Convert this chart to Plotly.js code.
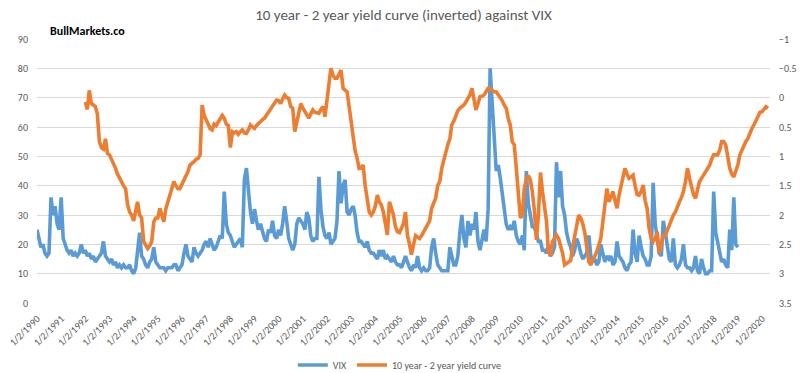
<!DOCTYPE html>
<html><head><meta charset="utf-8">
<script src="https://cdn.plot.ly/plotly-3.0.1.min.js"></script>
<style>html,body{margin:0;padding:0;background:#fff}#chart{width:800px;height:373px}</style>
</head><body><div id="chart"></div>
<script>
// x-axis tick labels (one per year, Jan 2nd)
const tickYears = [1990,1991,1992,1993,1994,1995,1996,1997,1998,1999,2000,2001,2002,2003,2004,2005,
  2006,2007,2008,2009,2010,2011,2012,2013,2014,2015,2016,2017,2018,2019,2020];

// VIX, monthly readings starting Jan 1990 (left axis)
const vixStart = '1990-01';
const vixValues = [
  25,21,19,20,17,16,17,36,30,33,27,25,   // 1990
  36,22,20,18,17,18,16,17,16,17,20,17,   // 1991
  18,16,17,15,16,14,15,16,17,21,16,15,   // 1992
  14,15,13,14,12,13,12,13,12,12,13,11,   // 1993
  10,12,19,24,16,15,13,12,14,15,19,14,   // 1994
  13,12,12,12,11,12,12,12,13,13,11,12,   // 1995
  13,17,20,16,15,14,19,17,16,17,18,20,   // 1996
  21,19,22,20,18,19,21,23,22,38,27,24,   // 1997
  23,21,19,20,21,22,19,42,46,38,31,27,   // 1998
  32,28,25,27,24,22,21,25,24,28,23,22,   // 1999
  25,23,27,33,28,22,20,18,20,27,29,28,   // 2000
  27,25,31,29,23,21,22,22,43,32,26,23,   // 2001
  22,24,20,21,22,28,45,34,40,42,31,30,   // 2002
  32,33,30,24,21,21,20,19,21,18,17,17,   // 2003
  16,15,18,16,18,15,16,15,14,16,14,13,   // 2004
  13,12,14,16,14,12,11,13,12,16,12,11,   // 2005
  12,11,11,12,19,22,17,13,12,11,11,11,   // 2006
  11,19,16,13,13,16,24,30,22,19,28,23,   // 2007
  27,25,31,21,18,22,25,21,32,80,70,57,   // 2008
  45,47,43,37,32,27,25,26,25,28,23,21,   // 2009
  20,23,18,45,34,30,26,26,23,21,21,18,   // 2010
  18,17,20,16,17,19,48,36,45,33,30,24,   // 2011
  21,19,16,18,22,20,17,15,16,17,23,16,   // 2012
  14,15,13,14,20,17,14,16,15,16,13,14,   // 2013
  21,16,15,14,12,11,13,14,25,17,14,23,   // 2014
  19,16,15,13,13,16,41,27,22,17,16,28,   // 2015
  24,20,15,14,22,13,12,13,15,20,13,12,   // 2016
  12,11,12,16,11,10,15,12,10,10,11,11,   // 2017
  38,24,21,17,14,15,13,12,25,18,36,20,   // 2018
  19                                     // 2019
];

// 10 year - 2 year yield curve, monthly readings starting Jan 1992 (right axis, inverted)
const curveStart = '1992-01';
const curveValues = [
  0.075,0.2,-0.125,0.1,0.125,0.15,0.275,0.75,0.85,0.875,0.7,0.95,          // 1992
  0.975,1.05,1.1,1.2,1.3,1.375,1.425,1.5,1.55,1.825,1.95,2.0,              // 1993
  2.1,1.95,1.775,2.0,2.05,2.45,2.5,2.57,2.525,2.45,2.115,2.05,             // 1994
  2.05,1.885,2.0,2.115,1.9,1.775,1.66,1.55,1.43,1.5,1.55,1.55,             // 1995
  1.475,1.43,1.35,1.26,1.15,1.125,1.09,1.05,1.035,0.975,0.125,0.3,         // 1996
  0.375,0.45,0.525,0.55,0.45,0.475,0.425,0.375,0.3,0.35,0.45,0.475,        // 1997
  0.85,0.58,0.6,0.58,0.625,0.58,0.55,0.6,0.61,0.55,0.465,0.5,              // 1998
  0.525,0.475,0.45,0.41,0.375,0.35,0.3,0.25,0.2,0.125,0.075,0.04,          // 1999
  0.05,0.1,0.025,-0.045,0.0,0.01,0.15,0.18,0.58,0.4,0.24,0.1,              // 2000
  0.18,0.25,0.3,0.35,0.275,0.21,0.25,0.265,0.265,0.2,0.15,0.325,           // 2001
  0.0,-0.215,-0.5,-0.385,-0.33,-0.33,-0.4,-0.47,-0.16,-0.125,-0.1,0.15,    // 2002
  0.4,0.635,0.9,1.035,1.205,1.2,1.15,1.5,1.775,1.95,2.0,1.95,              // 2003
  1.85,1.66,1.775,1.83,1.945,2.15,2.34,1.775,1.9,2.0,2.2,2.285,            // 2004
  2.3,2.2,2.15,1.95,2.35,2.5,2.675,2.5,2.35,2.375,2.4,2.35,                // 2005
  2.285,2.25,2.17,2.1,1.885,1.8,1.715,1.5,1.43,1.205,1.05,0.92,            // 2006
  0.8,0.7,0.465,0.4,0.3,0.225,0.18,0.15,0.125,0.075,0.01,-0.05,            // 2007
  -0.16,0.0,0.21,0.1,-0.015,-0.025,-0.045,-0.1,-0.16,-0.15,-0.125,-0.1,    // 2008
  -0.1,-0.05,-0.015,0.05,0.125,0.18,0.35,0.465,0.75,0.805,1.205,1.6,       // 2009
  2.05,2.0,1.55,1.4,1.325,1.4,1.6,1.925,2.425,2.0,1.275,1.6,               // 2010
  1.85,2.115,2.625,2.7,2.455,2.4,2.34,2.4,2.51,2.65,2.85,2.825,            // 2011
  2.8,2.775,2.55,2.35,2.15,2.0,2.05,2.15,2.3,2.6,2.8,2.85,                 // 2012
  2.775,2.68,2.625,2.51,2.4,2.115,1.85,1.55,1.775,1.7,1.6,1.75,            // 2013
  1.885,1.66,1.5,1.35,1.205,1.3,1.375,1.35,1.32,1.5,1.65,1.66,             // 2014
  1.6,1.49,1.75,1.885,2.225,2.4,2.455,2.4,2.285,2.655,2.5,2.35,            // 2015
  2.35,2.25,2.17,2.1,2.0,1.95,1.85,1.775,1.7,1.6,1.43,1.205,               // 2016
  1.375,1.55,1.65,1.715,1.6,1.43,1.375,1.32,1.25,1.2,1.15,1.05,            // 2017
  0.975,0.975,0.975,0.9,0.75,0.75,0.805,1.0,1.205,1.3,1.35,1.25,           // 2018
  1.15,0.975,0.9,0.805,0.75,0.7,0.6,0.525,0.465,0.4,0.3,0.25,              // 2019
  0.24,0.2,0.155,0.18                                                      // 2020
];

function monthDates(start, n) {
  const [y0, m0] = start.split('-').map(Number);
  const out = [];
  for (let i = 0; i < n; i++) {
    const t = (m0 - 1) + i;
    const y = y0 + Math.floor(t / 12);
    const m = (t % 12) + 1;
    out.push(y + '-' + String(m).padStart(2, '0') + '-01');
  }
  return out;
}

const FONT = "Carlito, Lato, 'Liberation Sans', sans-serif";
const GREY = '#595959';

const traces = [
  {
    type: 'scatter', mode: 'lines', name: 'VIX',
    x: monthDates(vixStart, vixValues.length), y: vixValues,
    line: { color: '#5B9BD5', width: 3.6 }, yaxis: 'y'
  },
  {
    type: 'scatter', mode: 'lines', name: '10 year - 2 year yield curve',
    x: monthDates(curveStart, curveValues.length), y: curveValues,
    line: { color: '#ED7D31', width: 3.6 }, yaxis: 'y2'
  }
];

const layout = {
  width: 800, height: 373,
  margin: { l: 37, r: 30, t: 39, b: 70, autoexpand: false },
  paper_bgcolor: '#ffffff', plot_bgcolor: '#ffffff',
  font: { family: FONT, color: GREY },
  showlegend: true,
  title: {
    text: '10 year - 2 year yield curve (inverted) against VIX',
    x: 0.5, xanchor: 'center', xref: 'paper',
    y: 1 - 15 / 373, yref: 'container', yanchor: 'middle',
    font: { family: FONT, size: 15, color: GREY }
  },
  xaxis: {
    type: 'date', range: ['1990-01-01', '2020-05-01'], automargin: false,
    tickvals: tickYears.map(y => y + '-01-02'),
    ticktext: tickYears.map(y => '1/2/' + y),
    tickangle: -45, showgrid: false, zeroline: false, showline: false,
    ticks: 'outside', ticklen: 5, tickcolor: 'rgba(0,0,0,0)',
    tickfont: { family: FONT, size: 10, color: GREY }, fixedrange: true
  },
  yaxis: {
    range: [0, 90], dtick: 10, tick0: 0, automargin: false,
    gridcolor: '#D9D9D9', gridwidth: 1, zeroline: false, showline: false,
    ticks: 'outside', ticklen: 6, tickcolor: 'rgba(0,0,0,0)',
    tickfont: { family: FONT, size: 10, color: GREY }, fixedrange: true
  },
  yaxis2: {
    overlaying: 'y', side: 'right', range: [3.5, -1], dtick: 0.5, tick0: 0, automargin: false,
    showgrid: false, zeroline: false, showline: false,
    ticks: 'outside', ticklen: 6, tickcolor: 'rgba(0,0,0,0)',
    tickfont: { family: FONT, size: 10, color: GREY }, fixedrange: true
  },
  legend: {
    orientation: 'h', x: 0.495, xanchor: 'center',
    y: 1 - 365 / 373, yref: 'container', yanchor: 'middle',
    font: { family: FONT, size: 10, color: GREY }, itemwidth: 30,
    bgcolor: 'rgba(0,0,0,0)'
  },
  annotations: [{
    text: '<b>BullMarkets.co</b>', xref: 'paper', yref: 'paper',
    x: 0.015, xanchor: 'left', y: 1.03, yanchor: 'middle', showarrow: false,
    font: { family: FONT, size: 12, color: '#000000' }
  }]
};

Plotly.newPlot('chart', traces, layout, { staticPlot: true, displayModeBar: false });
</script>
</body></html>
